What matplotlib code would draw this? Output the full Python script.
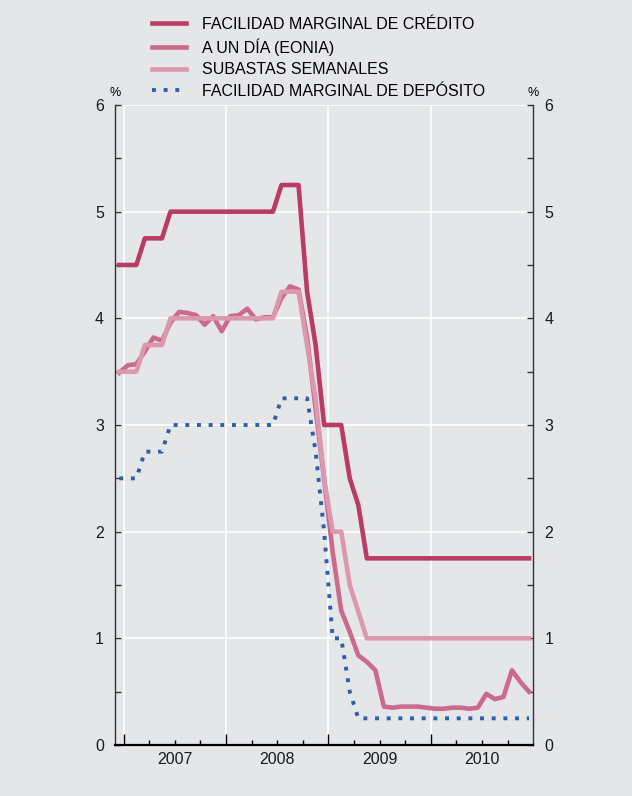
import numpy as np
import matplotlib
matplotlib.use("Agg")
import matplotlib.pyplot as plt
from matplotlib.transforms import offset_copy

plt.rcParams['font.family'] = ['Liberation Sans', 'DejaVu Sans']

# monthly values, Dec 2006 .. Dec 2010
credito = [4.5, 4.5, 4.5, 4.75, 4.75, 4.75] + [5.0] * 13 + [5.25] * 3 + \
    [4.25, 3.75, 3.0, 3.0, 3.0, 2.5, 2.25, 1.75] + [1.75] * 19
eonia = [3.49,
         3.56, 3.57, 3.69, 3.82, 3.79, 3.96, 4.06, 4.05, 4.03, 3.94, 4.02, 3.88,
         4.02, 4.03, 4.09, 3.99, 4.01, 4.01, 4.19, 4.30, 4.27, 3.82, 3.15, 2.49,
         1.81, 1.26, 1.06, 0.84, 0.78, 0.70, 0.36, 0.35, 0.36, 0.36, 0.36, 0.35,
         0.34, 0.34, 0.35, 0.35, 0.34, 0.35, 0.48, 0.43, 0.45, 0.70, 0.59, 0.50]
subastas = [3.5, 3.5, 3.5, 3.75, 3.75, 3.75] + [4.0] * 13 + [4.25] * 3 + \
    [3.75, 3.25, 2.5, 2.0, 2.0, 1.5, 1.25, 1.0] + [1.0] * 19
deposito = [2.5, 2.5, 2.5, 2.75, 2.75, 2.75] + [3.0] * 13 + [3.25] * 3 + \
    [3.25, 2.75, 2.0, 1.0, 1.0, 0.5, 0.25, 0.25] + [0.25] * 19

years = ['2007', '2008', '2009', '2010']
labels = ['FACILIDAD MARGINAL DE CRÉDITO', 'A UN DÍA (EONIA)',
          'SUBASTAS SEMANALES', 'FACILIDAD MARGINAL DE DEPÓSITO']

# months counted from Jan 2007 = 0, points in the middle of each month
x = np.arange(-1, 48) + 0.5

bg = '#e5e6e8'
c_cred = '#b83c64'
c_eonia = '#cc6a8c'
c_sub = '#dc98ad'
c_dep = '#2b5fae'

fig = plt.figure(figsize=(6.32, 7.96), dpi=100, facecolor=bg)
ax = fig.add_axes([115 / 632, 1 - 745 / 796, (533.3 - 115) / 632, (745 - 105) / 796])
ax.set_facecolor(bg)

l4, = ax.plot(x, deposito, color=c_dep, lw=2.8, linestyle=(0, (1, 2.0)),
              dash_capstyle='butt', label=labels[3])
l2, = ax.plot(x, eonia, color=c_eonia, lw=3.3, label=labels[1])
l3, = ax.plot(x, subastas, color=c_sub, lw=3.3, label=labels[2])
l1, = ax.plot(x, credito, color=c_cred, lw=3.3, label=labels[0])

ax.set_xlim(-1, 48)
ax.set_ylim(0, 6)

# white grid
for yy in range(1, 7):
    ax.axhline(yy, color='white', lw=1.2, zorder=0)
for xx in [0, 12, 24, 36]:
    ax.axvline(xx, color='white', lw=1.2, zorder=0)

ax.spines['top'].set_visible(False)
for s in ['left', 'right']:
    ax.spines[s].set_color('#333333')
    ax.spines[s].set_linewidth(1.0)
ax.spines['bottom'].set_color('black')
ax.spines['bottom'].set_linewidth(1.6)

ax.set_yticks(range(0, 7))
ax.set_yticks(np.arange(0, 6.01, 0.5), minor=True)
ax.tick_params(axis='y', which='both', direction='in', left=True, right=True,
               labelleft=True, labelright=True, labelsize=11.5, pad=8,
               color='#333333', labelcolor='#1a1a1a')
ax.tick_params(axis='y', which='major', length=4, width=1)
ax.tick_params(axis='y', which='minor', length=4, width=1)

ax.set_xticks([0, 12, 24, 36])
ax.set_xticks([q for q in range(3, 48, 3) if q % 12 != 0], minor=True)
ax.set_xticklabels([])
ax.tick_params(axis='x', which='major', direction='in', length=8, width=1, color='black')
ax.tick_params(axis='x', which='minor', direction='in', length=3.5, width=1, color='black')

lab_tr = offset_copy(ax.get_xaxis_transform(), fig=fig, y=-5, units='points')
for i, yr in enumerate(years):
    ax.text(6 + 12 * i, 0, yr, transform=lab_tr,
            ha='center', va='top', fontsize=11.5, color='#1a1a1a')

ax.text(0, 1.01, '%', transform=ax.transAxes, ha='center', va='bottom', fontsize=9)
ax.text(1, 1.01, '%', transform=ax.transAxes, ha='center', va='bottom', fontsize=9)

fig.legend(handles=[l1, l2, l3, l4], loc='upper left',
           bbox_to_anchor=(152 / 632, 1 - 17 / 796), frameon=False,
           fontsize=11.5, handlelength=2.1, handletextpad=1.0,
           labelspacing=0.4, borderpad=0, borderaxespad=0)

fig.savefig('out.png', dpi=100, facecolor=bg)
